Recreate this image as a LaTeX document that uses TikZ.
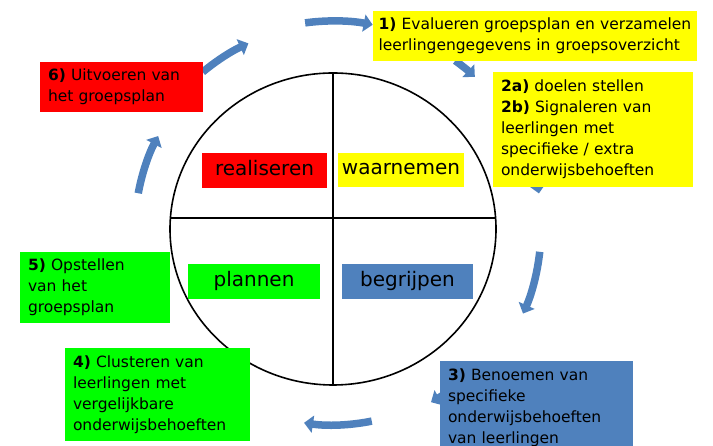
\documentclass[tikz,border=0pt]{standalone}
\usepackage{fontspec}
\setmainfont{DejaVu Sans}
\usepackage{tikz}
\usetikzlibrary{arrows.meta,shapes.geometric,calc}

\definecolor{stepred}{HTML}{FF0000}
\definecolor{stepyellow}{HTML}{FFFF00}
\definecolor{stepgreen}{HTML}{00FF00}
\definecolor{stepblue}{HTML}{4F81BD}

\tikzset{
  infobox/.style={anchor=north west, outer sep=0pt, inner xsep=8pt, inner ysep=0pt,
    align=left, font=\fontsize{15.5}{21}\selectfont},
  phase/.style={outer sep=0pt, inner sep=0pt, text height=14pt, text depth=4pt,
    font=\fontsize{20}{22}\selectfont},
  flow/.style={draw=stepblue, line width=7.5pt, -{Triangle[width=17pt,length=9pt]}}
}

\begin{document}
\begin{tikzpicture}[x=1pt,y=1pt]
  \useasboundingbox (0,0) rectangle (713,446);
  \coordinate (hub) at (333,217);

  % blue arrows round the wheel
  \draw[flow] ([shift={(97.7:208)}]hub) arc[start angle=97.7, end angle=79, radius=208pt];
  \draw[flow] ([shift={(54:208)}]hub) arc[start angle=54, end angle=47, radius=208pt];
  \draw[flow] ([shift={(25:209)}]hub) arc[start angle=25, end angle=9.8, radius=209pt];
  \draw[flow] ([shift={(-6.3:208)}]hub) arc[start angle=-6.3, end angle=-24, radius=208pt];
  \draw[flow] ([shift={(-50:199)}]hub) arc[start angle=-50, end angle=-60.5, radius=199pt];
  \draw[flow] ([shift={(-78.6:196)}]hub) arc[start angle=-78.6, end angle=-98.5, radius=196pt];
  \draw[flow] ([shift={(169.6:198)}]hub) arc[start angle=169.6, end angle=152, radius=198pt];
  \draw[flow] ([shift={(129.7:204)}]hub) arc[start angle=129.7, end angle=114.5, radius=204pt];

  % the wheel
  \node[draw, line width=1.6pt, ellipse, inner sep=0pt, minimum width=326pt, minimum height=312pt] (wheel) at (hub) {};
  \draw[line width=1.6pt] (wheel.north) -- (wheel.south);
  \draw[line width=1.6pt] ($(wheel.west)+(0.5,11)$) -- ($(wheel.east)+(-0.5,11)$);

  \node[phase, fill=stepred, minimum width=125pt, minimum height=35pt] (realise) at (264.5,275.5) {realiseren};
  \node[phase, fill=stepyellow, minimum width=126pt, minimum height=34pt] (observe) at (401,276) {waarnemen};
  \node[phase, fill=stepgreen, minimum width=132pt, minimum height=35pt] (plan) at (254,164.5) {plannen};
  \node[phase, fill=stepblue, minimum width=131pt, minimum height=35pt] (understand) at (407.5,164.5) {begrijpen};

  % steps
  \node[infobox, fill=stepyellow, inner xsep=5.5pt, text width=313pt, minimum height=50pt] (evaluate) at (373,435)
    {\textbf{1)} Evalueren groepsplan en verzamelen\\leerlingengegevens in groepsoverzicht};
  \node[infobox, fill=stepyellow, text width=184pt, minimum height=115pt] (goals) at (493,374)
    {\textbf{2a)} doelen stellen\\\textbf{2b)} Signaleren van\\leerlingen met\\specifieke / extra\\onderwijsbehoeften};
  \node[infobox, fill=stepblue, text width=177pt, minimum height=94pt] (name) at (440,85)
    {\textbf{3)} Benoemen van\\specifieke\\onderwijsbehoeften\\van leerlingen};
  \node[infobox, fill=stepgreen, text width=169pt, minimum height=93pt] (cluster) at (65,98)
    {\textbf{4)} Clusteren van\\leerlingen met\\vergelijkbare\\onderwijsbehoeften};
  \node[infobox, fill=stepgreen, text width=134pt, minimum height=71pt] (draft) at (20,194)
    {\textbf{5)} Opstellen\\van het\\groepsplan};
  \node[infobox, fill=stepred, text width=147pt, minimum height=50pt] (carry) at (40,384)
    {\textbf{6)} Uitvoeren van\\het groepsplan};
\end{tikzpicture}
\end{document}
